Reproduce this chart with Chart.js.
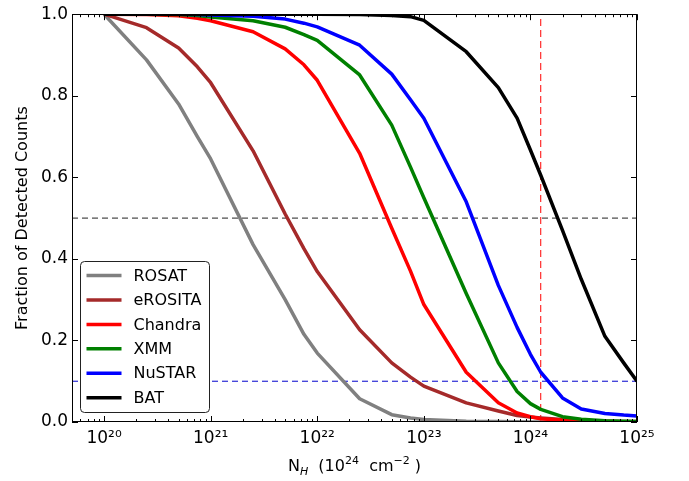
<!DOCTYPE html>
<html>
<head>
<meta charset="utf-8">
<script src="https://cdn.jsdelivr.net/npm/chart.js@4.4.1/dist/chart.umd.min.js"></script>
<style>
  html, body { margin: 0; padding: 0; background: #fff; }
</style>
</head>
<body>
<canvas id="myChart" width="689" height="481"></canvas>
<script>
// column density grid (cm^-2)
const nH = [1e20, 2.5e20, 5e20, 7.5e20, 1e21, 2.5e21, 5e21, 7.5e21, 1e22, 2.5e22, 5e22, 7.5e22,
            1e23, 2.5e23, 5e23, 7.5e23, 1e24, 1.25e24, 2e24, 3e24, 5e24, 7.5e24, 1e25];

// fraction of detected counts per instrument
const rosat   = [1.0, 0.888, 0.78, 0.70, 0.645, 0.435, 0.30, 0.215, 0.169, 0.057, 0.018, 0.010,
                 0.006, 0.002, 0.001, 0.0005, 0, 0, 0, 0, 0, 0, 0];
const erosita = [1.0, 0.967, 0.917, 0.871, 0.832, 0.665, 0.51, 0.425, 0.369, 0.226, 0.145, 0.11,
                 0.088, 0.047, 0.027, 0.016, 0.012, 0.010, 0.006, 0.004, 0.002, 0.001, 0.001];
const chandra = [1.0, 0.999, 0.996, 0.99, 0.984, 0.957, 0.915, 0.876, 0.838, 0.659, 0.475, 0.37,
                 0.288, 0.122, 0.047, 0.022, 0.013, 0.008, 0.004, 0.002, 0.001, 0.0005, 0];
const xmm     = [1.0, 1.0, 0.999, 0.997, 0.993, 0.984, 0.968, 0.95, 0.936, 0.851, 0.728, 0.625,
                 0.55, 0.315, 0.145, 0.075, 0.045, 0.031, 0.013, 0.007, 0.003, 0.002, 0.001];
const nustar  = [1.0, 1.0, 1.0, 0.999, 0.998, 0.995, 0.988, 0.978, 0.969, 0.924, 0.853, 0.79,
                 0.745, 0.54, 0.335, 0.232, 0.166, 0.122, 0.059, 0.032, 0.021, 0.017, 0.015];
const bat     = [1.0, 1.0, 1.0, 1.0, 1.0, 1.0, 1.0, 1.0, 1.0, 0.999, 0.997, 0.994,
                 0.985, 0.908, 0.82, 0.745, 0.667, 0.605, 0.47, 0.35, 0.21, 0.145, 0.1];

const labels = ['ROSAT', 'eROSITA', 'Chandra', 'XMM', 'NuSTAR', 'BAT'];
const colors = ['#808080', '#a52a2a', '#ff0000', '#008000', '#0000ff', '#000000'];

// reference lines
const xMin = 5e19, xMax = 1e25;
const halfLevel = 0.5, tenthLevel = 0.1, markNH = 1.25e24;
const xMajor = [1e20, 1e21, 1e22, 1e23, 1e24, 1e25];
const yMajor = [0, 0.2, 0.4, 0.6, 0.8, 1.0];

Chart.defaults.font.family = '"DejaVu Sans", sans-serif';
Chart.defaults.color = '#000';

const sup = {'0':'⁰','1':'¹','2':'²','3':'³','4':'⁴','5':'⁵','6':'⁶','7':'⁷','8':'⁸','9':'⁹','-':'⁻'};
const toSup = s => String(s).split('').map(c => sup[c]).join('');

const series = [rosat, erosita, chandra, xmm, nustar, bat];
const datasets = series.map((vals, k) => ({
    label: labels[k],
    data: nH.map((x, i) => ({x: x, y: vals[i]})),
    borderColor: colors[k],
    backgroundColor: colors[k],
    borderWidth: 3.5,
    pointRadius: 0,
    borderJoinStyle: 'round',
    fill: false,
    order: 6 - k
}));

datasets.push({
    label: 'half',
    data: [{x: xMin, y: halfLevel}, {x: xMax, y: halfLevel}],
    borderColor: '#222', borderWidth: 1, borderDash: [6, 4], pointRadius: 0, order: 10
});
datasets.push({
    label: 'tenth',
    data: [{x: xMin, y: tenthLevel}, {x: xMax, y: tenthLevel}],
    borderColor: '#0000cc', borderWidth: 1, borderDash: [6, 4], pointRadius: 0, order: 10
});
datasets.push({
    label: 'mark',
    data: [{x: markNH, y: 0}, {x: markNH, y: 1}],
    borderColor: '#ff0000', borderWidth: 1, borderDash: [7, 4], pointRadius: 0, order: 10
});

// frame + inward ticks, like matplotlib
const frameTicks = {
    id: 'frameTicks',
    afterDatasetsDraw(chart) {
        const {ctx, chartArea: a, scales: {x, y}} = chart;
        ctx.save();
        ctx.strokeStyle = '#000';
        ctx.lineWidth = 1;
        ctx.beginPath();
        xMajor.forEach(v => {
            const px = Math.round(x.getPixelForValue(v)) + 0.5;
            ctx.moveTo(px, a.bottom); ctx.lineTo(px, a.bottom - 6);
            ctx.moveTo(px, a.top); ctx.lineTo(px, a.top + 6);
        });
        for (let p = 19; p < 25; p++) {
            for (let m = 2; m <= 9; m++) {
                const v = m * Math.pow(10, p);
                if (v < xMin || v > xMax) continue;
                const px = Math.round(x.getPixelForValue(v)) + 0.5;
                ctx.moveTo(px, a.bottom); ctx.lineTo(px, a.bottom - 3);
                ctx.moveTo(px, a.top); ctx.lineTo(px, a.top + 3);
            }
        }
        yMajor.forEach(v => {
            const py = Math.round(y.getPixelForValue(v)) + 0.5;
            ctx.moveTo(a.left, py); ctx.lineTo(a.left + 6, py);
            ctx.moveTo(a.right, py); ctx.lineTo(a.right - 6, py);
        });
        ctx.stroke();
        ctx.strokeRect(Math.round(a.left) + 0.5, Math.round(a.top) + 0.5,
                       Math.round(a.width) - 1, Math.round(a.height) - 1);
        ctx.restore();
    }
};

// legend box in the lower left of the plot
const boxLegend = {
    id: 'boxLegend',
    afterDraw(chart) {
        const {ctx, chartArea: a} = chart;
        const w = 129, h = 151;
        const x0 = Math.round(a.left) + 8.5, y0 = Math.round(a.bottom) - 9.5 - h;
        ctx.save();
        ctx.beginPath();
        ctx.roundRect(x0, y0, w, h, 4);
        ctx.fillStyle = '#fff';
        ctx.fill();
        ctx.strokeStyle = '#222';
        ctx.lineWidth = 1;
        ctx.stroke();
        ctx.font = '16px "DejaVu Sans"';
        ctx.textBaseline = 'middle';
        ctx.fillStyle = '#000';
        chart.data.datasets.slice(0, 6).forEach((ds, i) => {
            const cy = y0 + 14 + i * 24.45;
            ctx.beginPath();
            ctx.strokeStyle = ds.borderColor;
            ctx.lineWidth = 3.5;
            ctx.moveTo(x0 + 6, cy);
            ctx.lineTo(x0 + 41, cy);
            ctx.stroke();
            ctx.fillText(ds.label, x0 + 53, cy + 1);
        });
        ctx.restore();
    }
};

// x title with sub/superscripts
const xTitle = {
    id: 'xTitle',
    afterDraw(chart) {
        const {ctx, chartArea: a} = chart;
        const parts = [
            {t: 'N', f: '16px "DejaVu Sans"', dy: 0},
            {t: 'H', f: 'italic 11px "DejaVu Sans"', dy: 4},
            {t: '  (10', f: '16px "DejaVu Sans"', dy: 0},
            {t: '24', f: '11px "DejaVu Sans"', dy: -7},
            {t: '  cm', f: '16px "DejaVu Sans"', dy: 0},
            {t: '−2', f: '11px "DejaVu Sans"', dy: -7},
            {t: ' )', f: '16px "DejaVu Sans"', dy: 0}
        ];
        ctx.save();
        ctx.fillStyle = '#000';
        ctx.textBaseline = 'alphabetic';
        let total = 0;
        parts.forEach(p => { ctx.font = p.f; p.w = ctx.measureText(p.t).width; total += p.w; });
        let cx = (a.left + a.right) / 2 - total / 2;
        const base = 471;
        parts.forEach(p => { ctx.font = p.f; ctx.fillText(p.t, cx, base + p.dy); cx += p.w; });
        ctx.restore();
    }
};

const ctx = document.getElementById('myChart').getContext('2d');
const myChart = new Chart(ctx, {
    type: 'line',
    data: {datasets: datasets},
    options: {
        responsive: false,
        animation: false,
        devicePixelRatio: 1,
        layout: {padding: {left: 0, right: 52, top: 14, bottom: 0}},
        plugins: {legend: {display: false}, tooltip: {enabled: false}},
        scales: {
            x: {
                type: 'logarithmic',
                min: xMin,
                max: xMax,
                grid: {display: false, drawTicks: false},
                border: {display: false},
                afterBuildTicks: s => { s.ticks = xMajor.map(v => ({value: v})); },
                afterFit: s => { s.height = 59; },
                ticks: {
                    autoSkip: false,
                    maxRotation: 0,
                    padding: 6,
                    font: {size: 17},
                    callback: v => '10' + toSup(Math.round(Math.log10(v)))
                }
            },
            y: {
                min: 0,
                max: 1,
                grid: {display: false, drawTicks: false},
                border: {display: false},
                afterFit: s => { s.width = 72; },
                ticks: {
                    stepSize: 0.2,
                    padding: 4,
                    font: {size: 17},
                    callback: v => v.toFixed(1)
                },
                title: {
                    display: true,
                    text: 'Fraction of Detected Counts',
                    font: {size: 16},
                    padding: {top: 13}
                }
            }
        }
    },
    plugins: [frameTicks, boxLegend, xTitle]
});
</script>
</body>
</html>
